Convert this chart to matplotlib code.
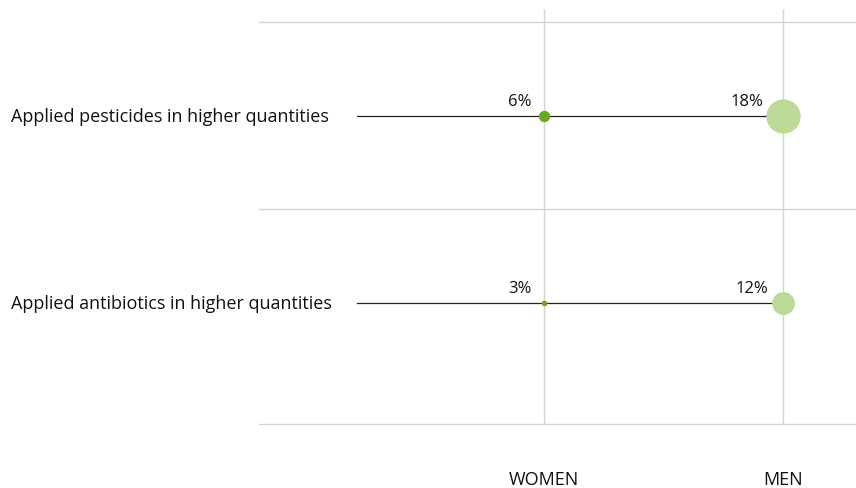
import matplotlib
matplotlib.use("Agg")
import matplotlib.pyplot as plt
from matplotlib.transforms import blended_transform_factory

plt.rcParams['font.family'] = ['Open Sans', 'DejaVu Sans']
plt.rcParams['font.size'] = 13

# data
categories = ['Applied pesticides in higher quantities', 'Applied antibiotics in higher quantities']
groups = ['WOMEN', 'MEN']
women = [6, 3]
men = [18, 12]

women_color = '#6aaa1e'
men_color = '#bcd995'
grid_color = '#d4d4d4'

fig = plt.figure(figsize=(8.56, 4.89), dpi=100)
ax = fig.add_axes([259 / 856, (489 - 425) / 489, 1 - 259 / 856, 415 / 489])

ax.set_xlim(-1.192, 1.305)
ax.set_ylim(1.647, -0.572)

# grid
for x in range(len(groups)):
    ax.axvline(x, color=grid_color, lw=1, zorder=0)
for y in [-0.5, 0.5]:
    ax.axhline(y, color=grid_color, lw=1, zorder=0)

for s in ['top', 'right', 'left']:
    ax.spines[s].set_visible(False)
ax.spines['bottom'].set_color(grid_color)
ax.spines['bottom'].set_linewidth(1)
ax.set_yticks([])
ax.set_xticks(range(len(groups)), groups)
ax.tick_params(axis='x', length=0, pad=33, labelsize=13, colors='#111111')


def diam_px(v):
    return v * 1.9


for i, cat in enumerate(categories):
    ax.plot([-0.782, 1], [i, i], color='#222222', lw=0.9, zorder=1)
    for x, v, c in [(0, women[i], women_color), (1, men[i], men_color)]:
        d = diam_px(v)
        ax.scatter([x], [i], s=(d * 0.72) ** 2, color=c, zorder=3, linewidths=0)
        off = max(d / 2, 9) + 3
        ax.annotate(f'{v}%', (x, i), xytext=(-off * 0.72, 10.5), textcoords='offset points',
                    ha='right', va='center', color='#111111', fontsize=12)

tr = blended_transform_factory(fig.transFigure, ax.transData)
for i, cat in enumerate(categories):
    ax.text(11 / 856, i, cat, transform=tr, ha='left', va='center', color='#111111')

fig.savefig('out.png', dpi=100)
